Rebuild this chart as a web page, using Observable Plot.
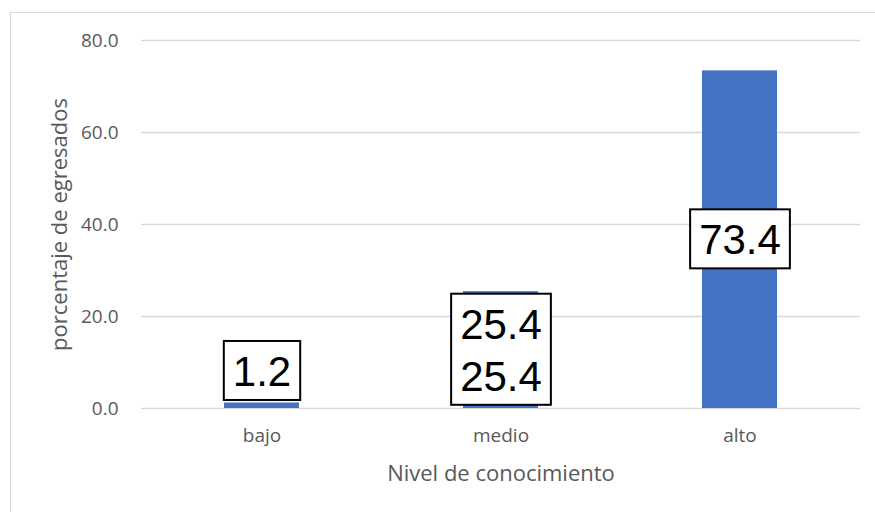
<!DOCTYPE html>
<html>
<head>
<meta charset="utf-8">
<script src="https://cdn.jsdelivr.net/npm/d3@7"></script>
<script src="https://cdn.jsdelivr.net/npm/@observablehq/plot@0.6"></script>
<style>
  html, body { margin: 0; padding: 0; background: #fff; overflow: hidden; }
  #wrap { position: relative; width: 875px; height: 512px; overflow: hidden; }
  #frame { position: absolute; left: 10px; top: 12px; width: 900px; height: 540px;
           border: 1px solid #d9d9d9; box-sizing: border-box; pointer-events: none; }
  #chart { position: absolute; left: 0; top: 0; }
</style>
</head>
<body>
<div id="wrap">
  <div id="chart"></div>
  <div id="frame"></div>
</div>
<script>
// Knowledge level of graduates (percent)
const niveles = ["bajo", "medio", "alto"];
const porcentajes = [1.2, 25.4, 73.4];
// how many times each value is printed inside its label box
const repeticiones = [1, 2, 1];
const yTicks = [0, 20, 40, 60, 80];
const xTitle = "Nivel de conocimiento";
const yTitle = "porcentaje de egresados";

const data = niveles.map((nivel, i) => ({
  nivel,
  pct: porcentajes[i],
  label: Array(repeticiones[i]).fill(porcentajes[i].toFixed(1)).join("\n")
}));

const axisFont = "'Open Sans', sans-serif";
const axisColor = "#595959";
const labelFont = "'Liberation Sans', Arial, sans-serif";
const labelAria = d => `etiqueta ${d.nivel}`;

const chart = Plot.plot({
  width: 875,
  height: 512,
  marginLeft: 141,
  marginRight: 15,
  marginTop: 40,
  marginBottom: 104,
  style: { fontFamily: axisFont, background: "transparent" },
  x: { domain: niveles, paddingInner: 0.6875, paddingOuter: 0.34375 },
  y: { domain: [0, 80], ticks: yTicks },
  marks: [
    Plot.gridY(yTicks, { stroke: "#d9d9d9", strokeOpacity: 1, strokeWidth: 1.5 }),
    Plot.barY(data, { x: "nivel", y: "pct", fill: "#4472C4" }),
    Plot.axisY(yTicks, {
      tickSize: 0, tickPadding: 23, tickFormat: d3.format(".1f"),
      fontSize: 19, fill: axisColor, label: null
    }),
    Plot.axisX({
      tickSize: 0, tickPadding: 20, fontSize: 19, fill: axisColor, label: null
    }),
    Plot.text([xTitle], {
      frameAnchor: "bottom", dy: 65, fontSize: 22, fill: axisColor, lineAnchor: "middle"
    }),
    Plot.text([yTitle], {
      frameAnchor: "left", dx: -82, rotate: -90, fontSize: 22, fill: axisColor,
      textAnchor: "middle", lineAnchor: "middle"
    }),
    // labels that do not fit inside the bar sit just above it
    Plot.text(data.filter(d => d.pct < 10), {
      x: "nivel", y: "pct", text: "label", lineAnchor: "bottom", dy: -17,
      fontSize: 42, fontFamily: labelFont,
      fill: "#000", lineHeight: 1.24, ariaLabel: labelAria
    }),
    // labels centred within the bar
    Plot.text(data.filter(d => d.pct >= 10), {
      x: "nivel", y: d => d.pct / 2, text: "label", lineAnchor: "middle", dy: -2,
      fontSize: 42, fontFamily: labelFont,
      fill: "#000", lineHeight: 1.24, ariaLabel: labelAria
    })
  ]
});

document.getElementById("chart").appendChild(chart);

// Draw a white box with a black outline behind every value label
const padX = 9, padTop = 7, padBottom = 5;
chart.querySelectorAll('text[aria-label^="etiqueta"]').forEach(t => {
  const b = t.getBBox();
  const r = document.createElementNS("http://www.w3.org/2000/svg", "rect");
  r.setAttribute("x", b.x - padX);
  r.setAttribute("y", b.y - padTop);
  r.setAttribute("width", b.width + 2 * padX);
  r.setAttribute("height", b.height + padTop + padBottom);
  r.setAttribute("fill", "#fff");
  r.setAttribute("stroke", "#000");
  r.setAttribute("stroke-width", 2);
  const tr = t.getAttribute("transform");
  if (tr) r.setAttribute("transform", tr);
  t.parentNode.insertBefore(r, t);
});
</script>
</body>
</html>
